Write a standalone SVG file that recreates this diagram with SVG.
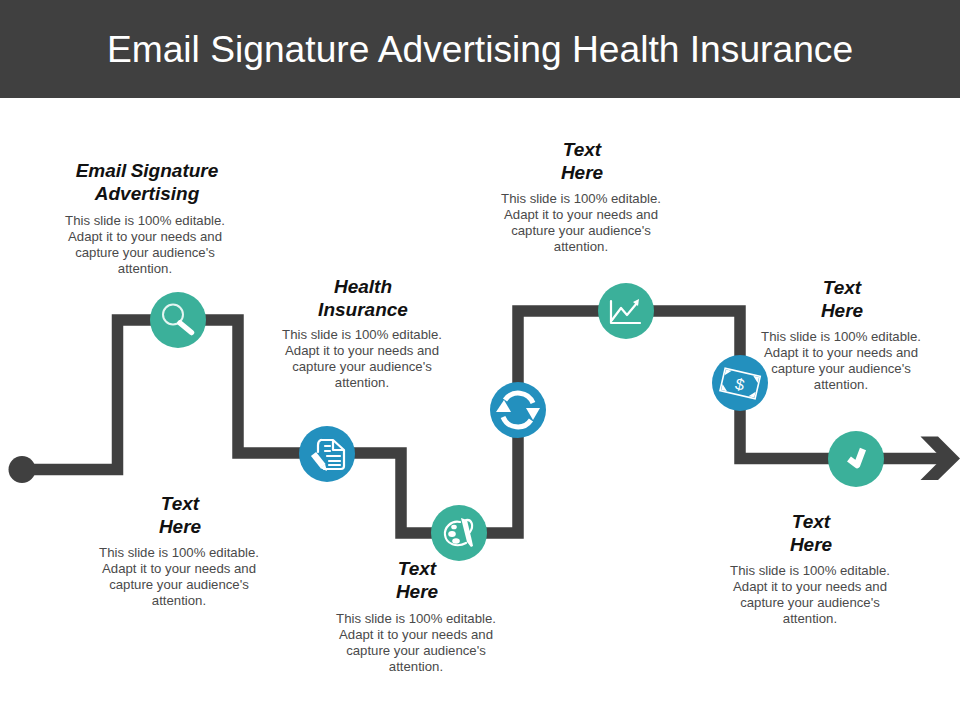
<svg xmlns="http://www.w3.org/2000/svg" width="960" height="720" viewBox="0 0 960 720">
<style>
.h{font-family:"Liberation Sans",Arial,sans-serif;font-size:19px;font-weight:bold;font-style:italic;fill:#111;text-anchor:middle;word-spacing:-1px}
.b{font-family:"Liberation Sans",Arial,sans-serif;font-size:13.200px;fill:#4a4a4a;text-anchor:middle}
.t{fill:#3BB09A}.c{fill:#2390BE}
.i{fill:none;stroke:#fff;stroke-width:2.2;stroke-linecap:round;stroke-linejoin:round}
.f{fill:#fff}
</style>
<rect width="960" height="720" fill="#fff"/>
<g id="title"><rect width="960" height="98" fill="#404040"/>
<text x="480" y="62" text-anchor="middle" font-family="'Liberation Sans',Arial,sans-serif" font-size="37.200" fill="#fff">Email Signature Advertising Health Insurance</text></g>
<g id="connectors">
<path d="M22 469.500H117.500V320H238V453H401V533H518V311H740V458.500H945" fill="none" stroke="#404040" stroke-width="11.500" stroke-linejoin="miter"/>
<circle cx="22" cy="469.500" r="13.500" fill="#404040"/>
<path d="M920.500 436.500H938L960 458.500L938 480H920.500L942 458.500Z" fill="#404040"/>
</g>
<g id="node-search"><circle class="t" cx="178" cy="320" r="28"/>
<circle cx="173" cy="314.500" r="10" fill="none" stroke="#E4F5F1" stroke-width="2"/>
<path d="M180 323L191.500 332.500" stroke="#fff" stroke-width="5.500" stroke-linecap="round"/>
<text class="h"><tspan x="147" y="177">Email Signature</tspan><tspan x="147" y="200">Advertising</tspan></text>
<text class="b"><tspan x="145" y="225">This slide is 100% editable.</tspan><tspan x="145" y="241">Adapt it to your needs and</tspan><tspan x="145" y="257">capture your audience's</tspan><tspan x="145" y="273">attention.</tspan></text></g>
<g id="node-document"><circle class="c" cx="327" cy="454" r="28"/>
<path class="i" d="M321 440H333L344 450V466Q344 469 341 469H324"/><path class="i" d="M321 440Q318 441 318 445V452"/>
<path class="i" stroke-width="1.800" d="M333 441V450H343M325 446H330M325 451H330M327 456H340M329 461H340M329 465H340"/>
<path d="M313.500 454L323 466" stroke="#fff" stroke-width="6.500"/><path class="f" d="M320 468L327 471L325 464Z"/>
<text class="h"><tspan x="363" y="293">Health</tspan><tspan x="363" y="316">Insurance</tspan></text>
<text class="b"><tspan x="362" y="339">This slide is 100% editable.</tspan><tspan x="362" y="355">Adapt it to your needs and</tspan><tspan x="362" y="371">capture your audience's</tspan><tspan x="362" y="387">attention.</tspan></text></g>
<g id="node-text-left"><text class="h"><tspan x="180" y="510">Text</tspan><tspan x="180" y="533">Here</tspan></text>
<text class="b"><tspan x="179" y="557">This slide is 100% editable.</tspan><tspan x="179" y="573">Adapt it to your needs and</tspan><tspan x="179" y="589">capture your audience's</tspan><tspan x="179" y="605">attention.</tspan></text></g>
<g id="node-palette"><circle class="t" cx="459" cy="533" r="28"/>
<path class="i" d="M460 522C451 520 444 528 445 535C446 544 457 548 466 543"/><path class="i" d="M466 520C472 519 474 526 470 532"/>
<ellipse class="f" cx="452" cy="534" rx="3.800" ry="3"/><ellipse class="f" cx="456" cy="541" rx="3.800" ry="2.800"/><ellipse class="f" cx="454" cy="527" rx="2.800" ry="2.300"/>
<path class="f" d="M461 518L467 520L472 541L473 546L471 547L467 542Z"/>
<text class="h"><tspan x="417" y="575">Text</tspan><tspan x="417" y="598">Here</tspan></text>
<text class="b"><tspan x="416" y="623">This slide is 100% editable.</tspan><tspan x="416" y="639">Adapt it to your needs and</tspan><tspan x="416" y="655">capture your audience's</tspan><tspan x="416" y="671">attention.</tspan></text></g>
<g id="node-refresh"><circle class="c" cx="518" cy="410" r="28"/>
<path d="M505 400A16 16 0 0 1 533 403" fill="none" stroke="#fff" stroke-width="5"/><path d="M531 420A16 16 0 0 1 503 417" fill="none" stroke="#fff" stroke-width="5"/>
<path class="f" d="M496 412L504 400L511 412Z"/><path class="f" d="M526 408L540 408L533 420Z"/>
</g>
<g id="node-chart"><circle class="t" cx="626" cy="311" r="28"/>
<path class="i" d="M611 301V323H640" stroke-width="1.600"/><path class="i" d="M612 320L621 308L627 315L637 303" stroke-width="2"/><path class="f" d="M633 302L639 299L638 306Z"/>
<text class="h"><tspan x="582" y="156">Text</tspan><tspan x="582" y="179">Here</tspan></text>
<text class="b"><tspan x="581" y="203">This slide is 100% editable.</tspan><tspan x="581" y="219">Adapt it to your needs and</tspan><tspan x="581" y="235">capture your audience's</tspan><tspan x="581" y="251">attention.</tspan></text></g>
<g id="node-money"><circle class="c" cx="740" cy="383" r="28"/>
<g transform="rotate(13 740 384)"><rect x="722" y="372" width="36" height="23" fill="none" stroke="#fff" stroke-width="1.600"/>
<path class="f" d="M723 373H729L723 379ZM757 373H751L757 379ZM723 394H729L723 388ZM757 394H751L757 388Z"/>
<text x="740" y="390" text-anchor="middle" font-family="'Liberation Sans',Arial,sans-serif" font-size="16" fill="#fff">$</text></g>
<text class="h"><tspan x="842" y="294">Text</tspan><tspan x="842" y="317">Here</tspan></text>
<text class="b"><tspan x="841" y="341">This slide is 100% editable.</tspan><tspan x="841" y="357">Adapt it to your needs and</tspan><tspan x="841" y="373">capture your audience's</tspan><tspan x="841" y="389">attention.</tspan></text></g>
<g id="node-check"><circle class="t" cx="856" cy="459" r="28"/>
<path d="M849 459L857 465L863 449" fill="none" stroke="#fff" stroke-width="6.500" stroke-linejoin="round"/>
<text class="h"><tspan x="811" y="528">Text</tspan><tspan x="811" y="551">Here</tspan></text>
<text class="b"><tspan x="810" y="575">This slide is 100% editable.</tspan><tspan x="810" y="591">Adapt it to your needs and</tspan><tspan x="810" y="607">capture your audience's</tspan><tspan x="810" y="623">attention.</tspan></text></g>
</svg>
